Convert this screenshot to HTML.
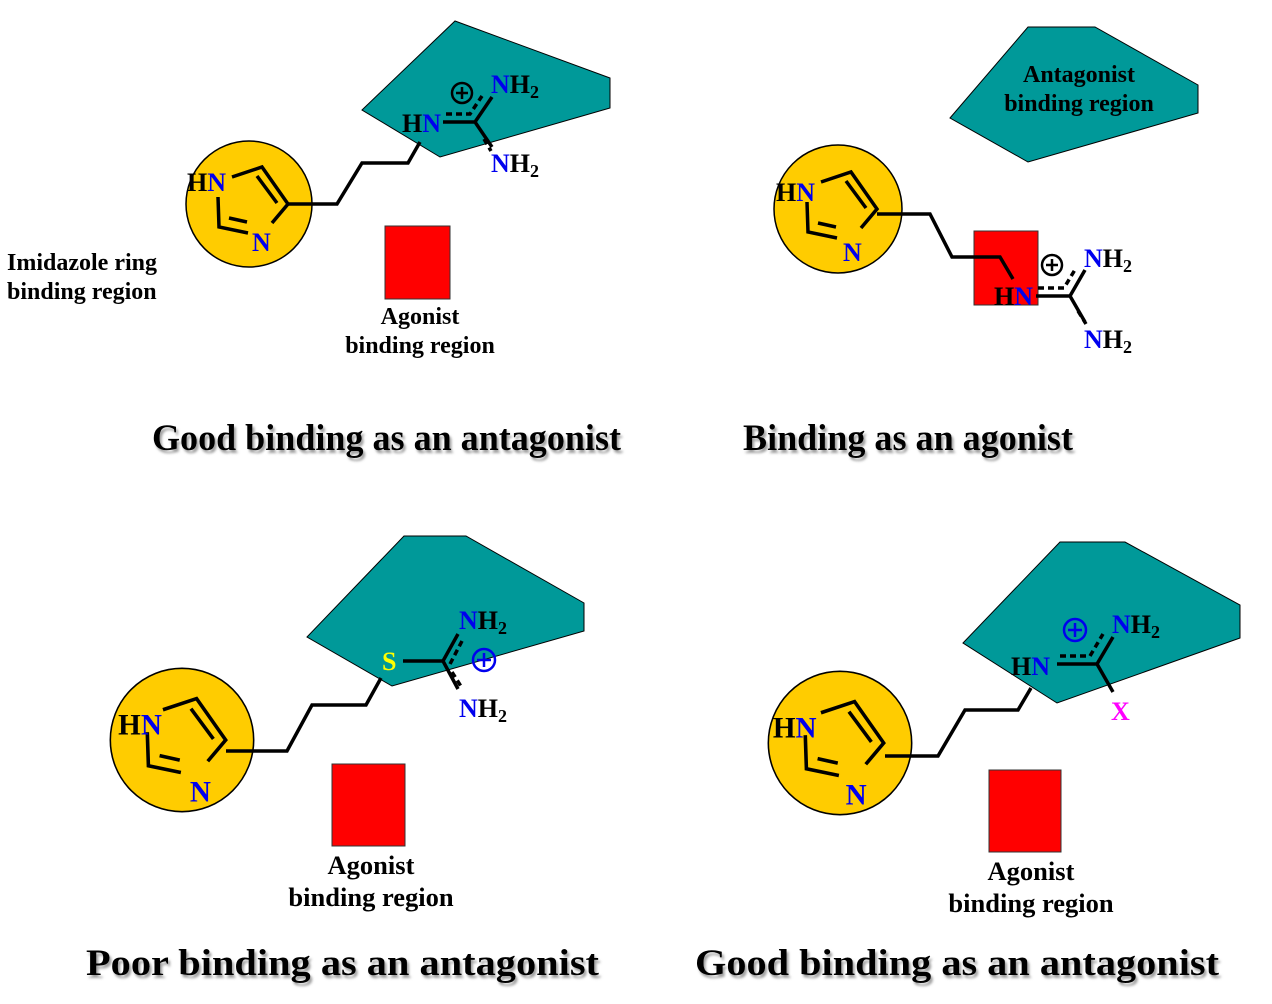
<!DOCTYPE html>
<html><head><meta charset="utf-8"><style>
html,body{margin:0;padding:0;background:#fff;}
svg{display:block;font-family:"Liberation Serif",serif;font-weight:bold;}
.b{stroke:#000;stroke-width:3.5;fill:none;stroke-linecap:butt;}
.d{stroke:#000;stroke-width:3.5;fill:none;stroke-dasharray:6 4;}
.t{font-size:24px;}
.t2{font-size:26.5px;}
.c{font-size:26px;}
.h{font-size:37px;}
</style></head><body>
<svg width="1272" height="1004" viewBox="0 0 1272 1004">
<defs>
<filter id="sh" x="-5%" y="-20%" width="110%" height="150%"><feDropShadow dx="2" dy="3" stdDeviation="1.2" flood-color="#888" flood-opacity="0.8"/></filter>
</defs>

<!-- Panel 1 -->
<g>
<polygon points="362,110 455,21 610,78 610,108 440,157" fill="#009999" stroke="#000" stroke-width="1"/>
<rect x="385" y="226" width="65" height="73" fill="#ff0000" stroke="#333" stroke-width="1"/>
<g transform="translate(249,204)">
<circle r="63" fill="#ffcc00" stroke="#000" stroke-width="1.5"/>
<path class="b" d="M-31,-7 L-30,23 L-1,29 M23,19 L39,0 L13,-37 L-17,-27"/>
<path class="b" d="M-20,14 L-2,18 M28,-1 L8,-28"/>
<text x="-62" y="-13" class="c">H<tspan fill="#0000ee">N</tspan></text>
<text x="3" y="47" class="c" fill="#0000ee">N</text>
</g>
<path class="b" d="M288,204 L337,204 L362,163 L408,163 L420,142"/>
<text x="402" y="132" class="c">H<tspan fill="#0000ee">N</tspan></text>
<path class="b" d="M443,122 L475,122 L492,97 M475,122 L492,147"/>
<path class="d" d="M446,114 L470,114 L482,96 M484,139 L491,151" />
<circle cx="462" cy="93" r="10" fill="none" stroke="#000" stroke-width="2.5"/>
<path class="b" style="stroke-width:2.5" d="M456,93 L468,93 M462,87 L462,99"/>
<text x="491" y="93" class="c"><tspan fill="#0000ee">N</tspan>H<tspan font-size="18" dy="5">2</tspan></text>
<text x="491" y="172" class="c"><tspan fill="#0000ee">N</tspan>H<tspan font-size="18" dy="5">2</tspan></text>
<text x="7" y="270" class="t">Imidazole ring</text>
<text x="7" y="299" class="t">binding region</text>
<text x="420" y="324" class="t" text-anchor="middle">Agonist</text>
<text x="420" y="353" class="t" text-anchor="middle">binding region</text>
<text x="152" y="450" class="h" textLength="469" lengthAdjust="spacingAndGlyphs" filter="url(#sh)">Good binding as an antagonist</text>
</g>

<!-- Panel 2 -->
<g>
<polygon points="950,118 1028,27 1095,27 1198,85 1198,113 1028,162" fill="#009999" stroke="#000" stroke-width="1"/>
<text x="1079" y="82" class="t" text-anchor="middle">Antagonist</text>
<text x="1079" y="111" class="t" text-anchor="middle">binding region</text>
<g transform="translate(838,209)">
<circle r="64" fill="#ffcc00" stroke="#000" stroke-width="1.5"/>
<path class="b" d="M-31,-7 L-30,23 L-1,29 M23,19 L39,0 L13,-37 L-17,-27"/>
<path class="b" d="M-20,14 L-2,18 M28,-1 L8,-28"/>
<text x="-62" y="-8" class="c">H<tspan fill="#0000ee">N</tspan></text>
<text x="5" y="52" class="c" fill="#0000ee">N</text>
</g>
<rect x="974" y="231" width="64" height="74" fill="#ff0000" stroke="#333" stroke-width="1"/>
<path class="b" d="M877,214 L930,214 L952,257 L1000,257 L1013,279"/>
<text x="994" y="305" class="c">H<tspan fill="#0000ee">N</tspan></text>
<path class="b" d="M1036,296 L1070,296 L1085,270 M1070,296 L1085,322"/>
<path class="d" d="M1038,288 L1064,288 L1076,268 M1078,311 L1086,324"/>
<circle cx="1052" cy="265" r="10" fill="none" stroke="#000" stroke-width="2.5"/>
<path class="b" style="stroke-width:2.5" d="M1046,265 L1058,265 M1052,259 L1052,271"/>
<text x="1084" y="267" class="c"><tspan fill="#0000ee">N</tspan>H<tspan font-size="18" dy="5">2</tspan></text>
<text x="1084" y="348" class="c"><tspan fill="#0000ee">N</tspan>H<tspan font-size="18" dy="5">2</tspan></text>
<text x="743" y="450" class="h" textLength="330" lengthAdjust="spacingAndGlyphs" filter="url(#sh)">Binding as an agonist</text>
</g>

<!-- Panel 3 -->
<g>
<polygon points="307,637 404,536 466,536 584,603 584,631 392,686" fill="#009999" stroke="#000" stroke-width="1"/>
<g transform="translate(182,740) scale(1.12)">
<circle r="64" fill="#ffcc00" stroke="#000" stroke-width="1.4"/>
<path class="b" style="stroke-width:3.2" d="M-31,-7 L-30,23 L-1,29 M23,19 L39,0 L13,-37 L-17,-27"/>
<path class="b" style="stroke-width:3.2" d="M-20,14 L-2,18 M28,-1 L8,-28"/>
<text x="-57" y="-5" class="c">H<tspan fill="#0000ee">N</tspan></text>
<text x="7" y="55" class="c" fill="#0000ee">N</text>
</g>
<path class="b" d="M226,751 L287,751 L312,705 L366,705 L381,678"/>
<text x="382" y="670" class="c" fill="#ffff00">S</text>
<path class="b" d="M403,661 L443,661 L458,634 M443,661 L458,689"/>
<path class="d" d="M450,664 L462,641 M452,672 L462,688"/>
<circle cx="484" cy="660" r="11" fill="none" stroke="#0000ee" stroke-width="2.5"/>
<path class="b" style="stroke:#0000ee;stroke-width:2.5" d="M477,660 L491,660 M484,653 L484,667"/>
<text x="459" y="629" class="c"><tspan fill="#0000ee">N</tspan>H<tspan font-size="18" dy="5">2</tspan></text>
<text x="459" y="717" class="c"><tspan fill="#0000ee">N</tspan>H<tspan font-size="18" dy="5">2</tspan></text>
<rect x="332" y="764" width="73" height="82" fill="#ff0000" stroke="#333" stroke-width="1"/>
<text x="371" y="874" class="t2" text-anchor="middle">Agonist</text>
<text x="371" y="906" class="t2" text-anchor="middle">binding region</text>
<text x="86" y="975" class="h" textLength="513" lengthAdjust="spacingAndGlyphs" filter="url(#sh)">Poor binding as an antagonist</text>
</g>

<!-- Panel 4 -->
<g>
<polygon points="963,643 1060,542 1125,542 1240,605 1240,638 1057,703" fill="#009999" stroke="#000" stroke-width="1"/>
<g transform="translate(840,743) scale(1.12)">
<circle r="64" fill="#ffcc00" stroke="#000" stroke-width="1.4"/>
<path class="b" style="stroke-width:3.2" d="M-31,-7 L-30,23 L-1,29 M23,19 L39,0 L13,-37 L-17,-27"/>
<path class="b" style="stroke-width:3.2" d="M-20,14 L-2,18 M28,-1 L8,-28"/>
<text x="-60" y="-5" class="c">H<tspan fill="#0000ee">N</tspan></text>
<text x="5" y="55" class="c" fill="#0000ee">N</text>
</g>
<path class="b" d="M885,756 L938,756 L965,710 L1018,710 L1031,688"/>
<text x="1011" y="675" class="c">H<tspan fill="#0000ee">N</tspan></text>
<path class="b" d="M1057,664 L1097,664 L1113,637 M1097,664 L1113,692"/>
<path class="d" d="M1060,656 L1090,656 L1103,634"/>
<circle cx="1075" cy="630" r="11" fill="none" stroke="#0000ee" stroke-width="2.5"/>
<path class="b" style="stroke:#0000ee;stroke-width:2.5" d="M1068,630 L1082,630 M1075,623 L1075,637"/>
<text x="1112" y="633" class="c"><tspan fill="#0000ee">N</tspan>H<tspan font-size="18" dy="5">2</tspan></text>
<text x="1111" y="720" class="c" fill="#ff00ff">X</text>
<rect x="989" y="770" width="72" height="82" fill="#ff0000" stroke="#333" stroke-width="1"/>
<text x="1031" y="880" class="t2" text-anchor="middle">Agonist</text>
<text x="1031" y="912" class="t2" text-anchor="middle">binding region</text>
<text x="695" y="975" class="h" textLength="524" lengthAdjust="spacingAndGlyphs" filter="url(#sh)">Good binding as an antagonist</text>
</g>
</svg>
</body></html>
